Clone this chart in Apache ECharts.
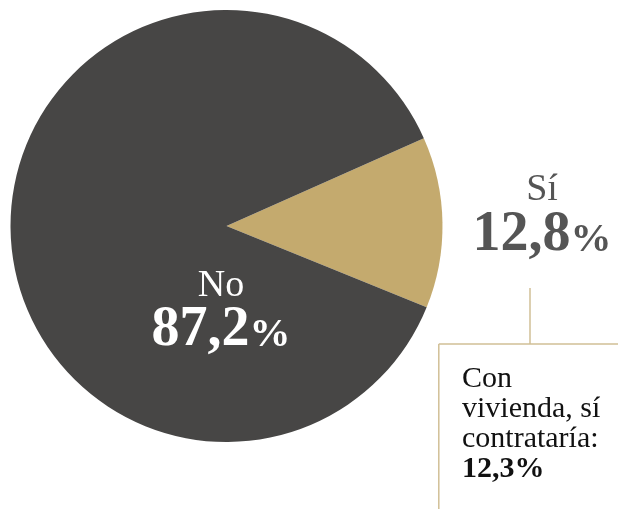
<!DOCTYPE html>
<html>
<head>
<meta charset="utf-8">
<script src="https://cdn.jsdelivr.net/npm/echarts@6/dist/echarts.min.js"></script>
<style>
  html, body { margin: 0; padding: 0; background: #ffffff; }
  #chart { width: 618px; height: 509px; }
</style>
</head>
<body>
<div id="chart"></div>
<script>
// Share of respondents who would hire housing-related services
const categories = ['Sí', 'No'];
const shares = [12.8, 87.2];
const sliceColors = ['#c4aa6e', '#474645'];
const subLabel = ['Con', 'vivienda, sí', 'contrataría:'];
const subShare = 12.3;

const fmt = v => v.toFixed(1).replace('.', ',');
const serif = '"Liberation Serif", "DejaVu Serif", serif';
const rule = '#d1bf96';

const chart = echarts.init(document.getElementById('chart'), null, { renderer: 'canvas' });

function bigLabel(name, value, color, x, yName, yValue) {
  return [
    {
      type: 'text', x: x, y: yName, z: 10,
      style: {
        text: name, fill: color, font: '38px ' + serif,
        align: 'center', verticalAlign: 'middle'
      }
    },
    {
      type: 'text', x: x, y: yValue, z: 10,
      style: {
        text: '{n|' + fmt(value) + '}{p|%}',
        align: 'center', verticalAlign: 'middle',
        rich: {
          n: { fill: color, font: 'bold 56px ' + serif, lineHeight: 60, verticalAlign: 'bottom' },
          p: { fill: color, font: 'bold 41px ' + serif, lineHeight: 60, verticalAlign: 'bottom', padding: [0, 0, 3, 0] }
        }
      }
    }
  ];
}

chart.setOption({
  animation: false,
  series: [{
    type: 'pie',
    center: [226.5, 226],
    radius: 216,
    startAngle: 24,
    clockwise: true,
    silent: true,
    label: { show: false },
    labelLine: { show: false },
    itemStyle: { borderWidth: 0 },
    data: categories.map((c, i) => ({ name: c, value: shares[i], itemStyle: { color: sliceColors[i] } }))
  }],
  graphic: [
    ...bigLabel(categories[0], shares[0], '#555555', 542, 190, 234),
    ...bigLabel(categories[1], shares[1], '#ffffff', 221, 286, 329),
    // connector from the "Sí" label down to the breakdown box
    { type: 'line', shape: { x1: 530, y1: 288, x2: 530, y2: 344 }, style: { stroke: rule, lineWidth: 1.5 } },
    { type: 'line', shape: { x1: 438.8, y1: 344, x2: 618, y2: 344 }, style: { stroke: rule, lineWidth: 1.5 } },
    { type: 'line', shape: { x1: 438.8, y1: 344, x2: 438.8, y2: 509 }, style: { stroke: rule, lineWidth: 1.5 } },
    {
      type: 'text', x: 462, y: 364, z: 10,
      style: {
        text: subLabel.map(s => '{t|' + s + '}').join('\n') + '\n{b|' + fmt(subShare) + '%}',
        align: 'left', verticalAlign: 'top',
        rich: {
          t: { fill: '#111111', font: '30px ' + serif, lineHeight: 30 },
          b: { fill: '#111111', font: 'bold 30px ' + serif, lineHeight: 30 }
        }
      }
    }
  ]
});
</script>
</body>
</html>
